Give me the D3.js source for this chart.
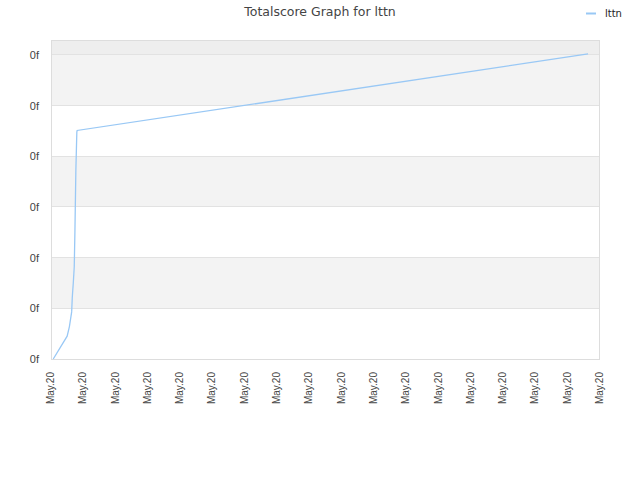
<!DOCTYPE html>
<html><head><meta charset="utf-8">
<script src="https://cdn.jsdelivr.net/npm/d3@7/dist/d3.min.js"></script>
<style>body{margin:0;background:#fff;}svg{display:block;}text{font-family:"DejaVu Sans",Verdana,sans-serif;}.ax{font-family:"Liberation Sans",Arial,sans-serif;}</style>
</head><body>
<svg id="c" width="640" height="480"></svg>
<script>
const title = "Totalscore Graph for lttn";
const seriesName = "lttn";
const xTickLabels = ["May.20","May.20","May.20","May.20","May.20","May.20","May.20","May.20","May.20","May.20","May.20","May.20","May.20","May.20","May.20","May.20","May.20","May.20"];
const yTickValues = [0,1,2,3,4,5,6];
const yTickLabels = ["0f","0f","0f","0f","0f","0f","0f"];
const xValues = [0.07,0.50,0.57,0.64,0.66,0.69,0.72,0.74,0.77,0.80,0.81,16.63];
const yValues = [0,0.45,0.64,0.93,1.23,1.50,1.82,2.49,3.73,4.48,4.51,6.02];

const svg = d3.select("#c");
const L=51,R=600,T=40,B=359;
const x = d3.scaleLinear().domain([0,17]).range([L,R]);
const y = d3.scaleLinear().domain([0,6]).range([B,B-6*50.67]);

// bands
const bands=[];
for(let i=0;i<6;i++) bands.push([i,i+1]);
svg.selectAll("rect.band").data(bands).join("rect")
  .attr("x",L).attr("width",R-L)
  .attr("y",d=>y(d[1])).attr("height",d=>y(d[0])-y(d[1]))
  .attr("fill",(d,i)=>i%2===1?"#f3f3f3":"#ffffff");
svg.append("rect").attr("x",L).attr("width",R-L).attr("y",T).attr("height",y(6)-T).attr("fill","#eeeeee");

// grid
svg.selectAll("line.grid").data(yTickValues).join("line")
  .attr("x1",L).attr("x2",R).attr("y1",d=>y(d)).attr("y2",d=>y(d))
  .attr("stroke","#e2e2e2").attr("stroke-width",1).attr("shape-rendering","crispEdges");

// border
svg.append("rect").attr("x",L+0.5).attr("y",T+0.5).attr("width",R-L-1).attr("height",B-T)
  .attr("fill","none").attr("stroke","#dddddd").attr("shape-rendering","crispEdges");

// y axis labels
svg.selectAll("text.yl").data(yTickValues).join("text").attr("class","ax")
  .attr("x",L-12).attr("y",d=>y(d)).attr("dy","0.35em").attr("text-anchor","end")
  .attr("font-size",11).attr("fill","#444").text((d,i)=>yTickLabels[i]);

// x axis labels
svg.selectAll("text.xl").data(xTickLabels).join("text").attr("class","ax")
  .attr("transform",(d,i)=>`translate(${x(i)+3},${B+13}) rotate(-90)`)
  .attr("text-anchor","end").attr("font-size",10).attr("fill","#444").text(d=>d);

// line
const pts = xValues.map((v,i)=>[v,yValues[i]]);
svg.append("path").datum(pts)
  .attr("d",d3.line().x(d=>x(d[0])).y(d=>y(d[1])))
  .attr("fill","none").attr("stroke","#99c8f5").attr("stroke-width",1.3);

// title
svg.append("text").attr("x",320).attr("y",16).attr("text-anchor","middle")
  .attr("font-size",12.5).attr("fill","#444").text(title);

// legend
svg.append("line").attr("x1",586).attr("x2",596).attr("y1",13.5).attr("y2",13.5)
  .attr("stroke","#99c8f5").attr("stroke-width",2);
svg.append("text").attr("x",605).attr("y",13).attr("dy","0.35em")
  .attr("font-size",10).attr("fill","#222").text(seriesName);
</script>
</body></html>
